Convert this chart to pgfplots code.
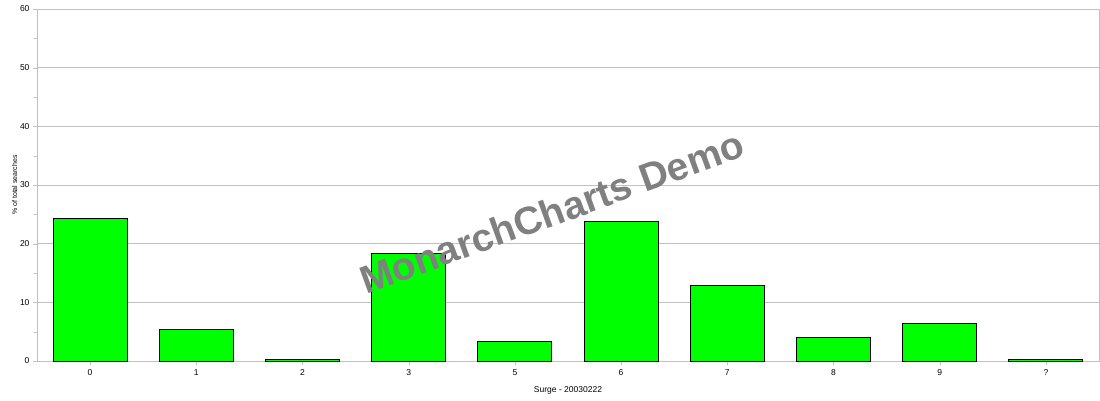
\documentclass[border=0pt]{standalone}
\usepackage{pgfplots}
\pgfplotsset{compat=1.18}
\usepackage{fontspec}
\setmainfont{Liberation Sans}
\definecolor{framegray}{RGB}{192,192,192}
\definecolor{bargreen}{RGB}{0,255,0}
\definecolor{markgray}{RGB}{128,128,128}
\begin{document}
\begin{tikzpicture}
\begin{axis}[
    scale only axis,
    width=1062pt, height=352pt,
    xmin=-0.5, xmax=9.5,
    ymin=0, ymax=60,
    xtick={0,...,9},
    xticklabels={0,1,2,3,5,6,7,8,9,?},
    ytick={0,10,...,60},
    minor ytick={5,15,...,55},
    xtick pos=bottom, ytick pos=left,
    tick align=outside,
    major tick length=4pt,
    minor tick length=3pt,
    xtick style={framegray},
    ytick style={framegray},
    minor tick style={framegray},
    axis line style={framegray},
    ymajorgrids,
    grid style={framegray, line width=0.8pt},
    tick label style={font=\fontsize{8.5}{9}\selectfont},
    /pgf/number format/assume math mode=true,
    xticklabel style={yshift=-1pt},
    xlabel={Surge - 20030222},
    ylabel={\% of total searches},
    xlabel style={font=\fontsize{8.5}{9}\selectfont, yshift=-4pt},
    ylabel style={font=\fontsize{7}{8}\selectfont, yshift=-4pt},
    ybar, bar width=74pt,
]
\addplot[fill=bargreen, draw=black, line width=1pt] coordinates {
    (0,24.3) (1,5.4) (2,0.2) (3,18.3) (4,3.4)
    (5,23.8) (6,12.9) (7,4.0) (8,6.4) (9,0.3)
};
\node[rotate=20, text=markgray, font=\bfseries\fontsize{39}{40}\selectfont]
    at (axis cs:4.35,25.4) {MonarchCharts Demo};
\end{axis}
\path (current axis.south west) ++(-37pt,-39pt) rectangle ++(1100pt,400pt);
\end{tikzpicture}
\end{document}
